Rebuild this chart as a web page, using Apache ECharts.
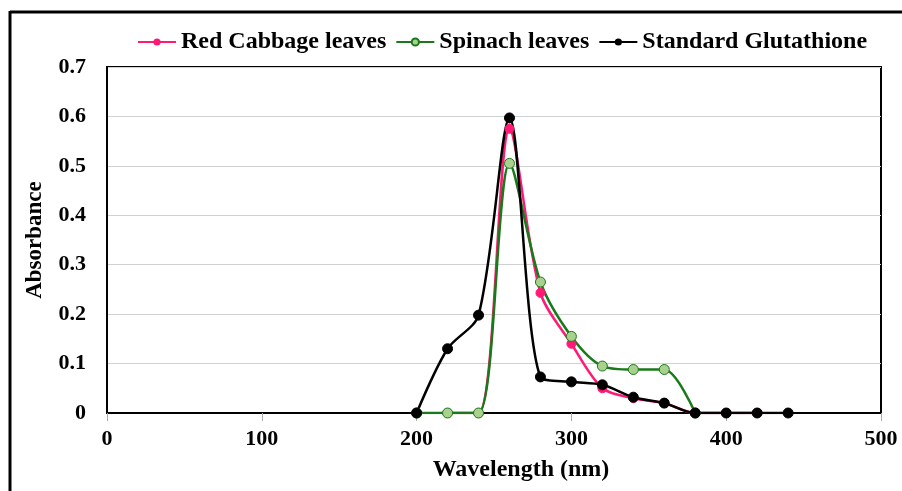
<!DOCTYPE html>
<html>
<head>
<meta charset="utf-8">
<script src="https://cdn.jsdelivr.net/npm/echarts@6/dist/echarts.min.js"></script>
<style>
  html, body { margin: 0; padding: 0; background: #fff; }
  #chart { width: 902px; height: 491px; }
</style>
</head>
<body>
<div id="chart"></div>
<script>
// wavelengths (nm) and absorbance values
const redWave = [220, 240, 260, 280, 300, 320, 340, 360, 380, 400, 420]
const redAbs = [0, 0, 0.575, 0.243, 0.14, 0.05, 0.03, 0.02, 0, 0, 0]

const spinachWave = [200, 220, 240, 260, 280, 300, 320, 340, 360, 380]
const spinachAbs = [0, 0, 0, 0.505, 0.265, 0.155, 0.095, 0.088, 0.088, 0]

const glutWave = [200, 220, 240, 260, 280, 300, 320, 340, 360, 380, 400, 420, 440]
const glutAbs = [0, 0.13, 0.198, 0.597, 0.073, 0.063, 0.057, 0.032, 0.02, 0, 0, 0, 0]

const seriesNames = ['Red Cabbage leaves', 'Spinach leaves', 'Standard Glutathione']

const pairs = (xs, ys) => xs.map((x, i) => [x, ys[i]])

const font = 'Liberation Serif'
const chart = echarts.init(document.getElementById('chart'))

chart.setOption({
  backgroundColor: '#fff',
  animation: false,
  grid: {
    left: 107, right: 21, top: 67, bottom: 78,
    show: true, borderColor: '#000', borderWidth: 2
  },
  legend: {
    top: 25,
    left: 132,
    itemWidth: 38,
    itemHeight: 9,
    itemGap: 9,
    textStyle: { fontFamily: font, fontWeight: 'bold', fontSize: 24, color: '#000' },
    data: seriesNames
  },
  xAxis: {
    type: 'value', min: 0, max: 500, interval: 100,
    name: 'Wavelength (nm)', nameLocation: 'middle', nameGap: 45,
    nameTextStyle: {
      fontFamily: font, fontWeight: 'bold', fontSize: 24, color: '#000',
      padding: [0, 0, 0, 54]
    },
    axisLine: { onZero: false, lineStyle: { color: '#000', width: 2 } },
    axisTick: { show: true, length: 8, lineStyle: { color: '#aaa' } },
    axisLabel: { fontFamily: font, fontWeight: 'bold', fontSize: 22, color: '#000', margin: 15 },
    splitLine: { show: false }
  },
  yAxis: {
    type: 'value', min: 0, max: 0.7, interval: 0.1,
    name: 'Absorbance', nameLocation: 'middle', nameGap: 60, nameRotate: 90,
    nameTextStyle: { fontFamily: font, fontWeight: 'bold', fontSize: 23, color: '#000' },
    axisLine: { show: true, lineStyle: { color: '#000', width: 2 } },
    axisTick: { show: false },
    axisLabel: { fontFamily: font, fontWeight: 'bold', fontSize: 22, color: '#000', margin: 21 },
    splitLine: { show: true, lineStyle: { color: '#d0d0d0', width: 1 } }
  },
  graphic: [
    { type: 'line', shape: { x1: 10, y1: 12, x2: 902, y2: 12 }, style: { stroke: '#000', lineWidth: 3 } },
    { type: 'line', shape: { x1: 10, y1: 11, x2: 10, y2: 491 }, style: { stroke: '#000', lineWidth: 3 } }
  ],
  series: [
    {
      name: seriesNames[0], type: 'line', smooth: 0.3,
      data: pairs(redWave, redAbs),
      symbol: 'circle', symbolSize: 9,
      lineStyle: { color: '#ff1a75', width: 2.5 },
      itemStyle: { color: '#ff1a75', borderColor: '#ff1a75' }
    },
    {
      name: seriesNames[1], type: 'line', smooth: 0.3,
      data: pairs(spinachWave, spinachAbs),
      symbol: 'circle', symbolSize: 10,
      lineStyle: { color: '#1a7a1a', width: 2.5 },
      itemStyle: { color: '#a9d18e', borderColor: '#1a7a1a', borderWidth: 1 }
    },
    {
      name: seriesNames[2], type: 'line', smooth: 0.3,
      data: pairs(glutWave, glutAbs),
      symbol: 'circle', symbolSize: 10,
      lineStyle: { color: '#000', width: 2.5 },
      itemStyle: { color: '#000', borderColor: '#000' }
    }
  ]
})
</script>
</body>
</html>
